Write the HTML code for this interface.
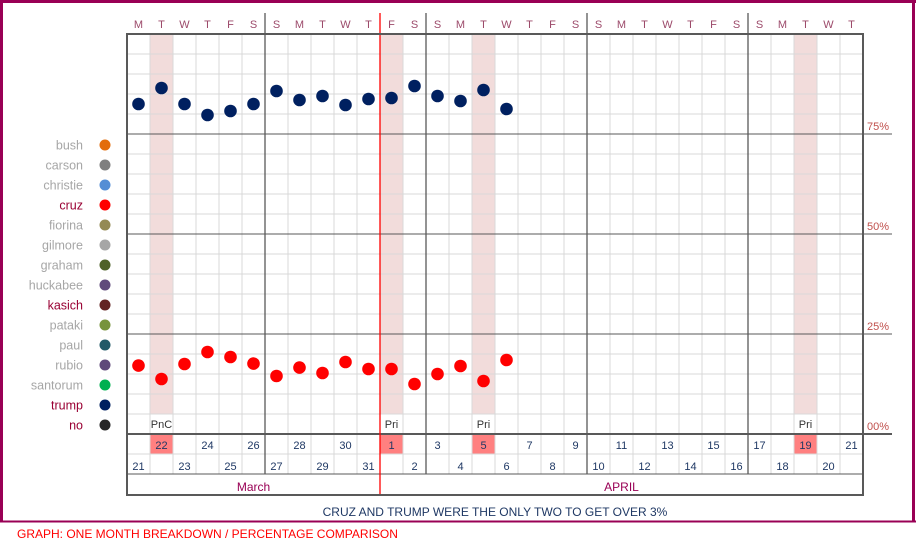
<!DOCTYPE html>
<html><head><meta charset="utf-8">
<style>
html,body{margin:0;padding:0;background:#fff;}
svg{display:block;font-family:"Liberation Sans",sans-serif;}
</style></head>
<body>
<svg id="chart" width="916" height="543" viewBox="0 0 916 543" xmlns="http://www.w3.org/2000/svg">
<g id="frame">
<rect x="0" y="0" width="916" height="543" fill="#fff"/>
<line x1="0" y1="1.5" x2="916" y2="1.5" stroke="#990055" stroke-width="3"/>
<line x1="1.5" y1="0" x2="1.5" y2="522" stroke="#990055" stroke-width="3"/>
<line x1="913.5" y1="0" x2="913.5" y2="522" stroke="#990055" stroke-width="3"/>
<line x1="0" y1="521.5" x2="916" y2="521.5" stroke="#990055" stroke-width="2"/>
</g>
<g id="grid"></g>
<g id="marks"></g>
<g id="legend"></g>
<text x="495" y="516" text-anchor="middle" font-size="12" fill="#1f3864">CRUZ AND TRUMP WERE THE ONLY TWO TO GET OVER 3%</text>
<text x="17" y="538" font-size="12" fill="#ff0000">GRAPH: ONE MONTH BREAKDOWN / PERCENTAGE COMPARISON</text>
</svg>
<script>
const dayLetters = ["M","T","W","T","F","S","S","M","T","W","T","F","S","S","M","T","W","T","F","S","S","M","T","W","T","F","S","S","M","T","W","T"];
const dates = [21,22,23,24,25,26,27,28,29,30,31,1,2,3,4,5,6,7,8,9,10,11,12,13,14,15,16,17,18,19,20,21];
const eventDays = [1,11,15,29];
const eventLabels = ["PnC","Pri","Pri","Pri"];
const weekBreaks = [6,13,20,27];
const monthBreak = 11;
const yTicks = [75,50,25,0];
const yTickLabels = ["75%","50%","25%","00%"];
const trumpValues = [82.5,86.5,82.5,79.75,80.75,82.5,85.75,83.5,84.5,82.25,83.75,84,87,84.5,83.25,86,81.25];
const cruzValues = [17.1,13.75,17.5,20.5,19.25,17.6,14.5,16.6,15.25,18,16.25,16.25,12.5,15,17,13.25,18.5];
const legendNames = ["bush","carson","christie","cruz","fiorina","gilmore","graham","huckabee","kasich","pataki","paul","rubio","santorum","trump","no"];
const legendColors = ["#e36c0a","#7f7f7f","#558ed5","#ff0000","#948a54","#a6a6a6","#4f6228","#604a7b","#632423","#77933c","#215967","#5f497a","#00b050","#002060","#262626"];
const legendHighlighted = ["cruz","kasich","trump","no"];

const NS="http://www.w3.org/2000/svg";
const X0=127, CW=23, N=dates.length, X1=X0+N*CW, YTOP=34, Y0=434;
const xCol=i=>X0+i*CW, xMid=i=>X0+i*CW+CW/2, yPct=v=>Y0-v*4;
function mk(parent,tag,attrs,text){const e=document.createElementNS(NS,tag);for(const k in attrs)e.setAttribute(k,attrs[k]);if(text!==undefined)e.textContent=text;parent.appendChild(e);return e;}
const grid=document.getElementById('grid'), marks=document.getElementById('marks'), legend=document.getElementById('legend');

// event shading
eventDays.forEach((d,k)=>{
  const r=mk(grid,'rect',{x:xCol(d),y:YTOP,width:CW,height:414-YTOP,fill:'#f2dcdb'});
  
  
  const c=mk(grid,'rect',{x:xCol(d),y:434,width:CW,height:20,fill:'#ff8080'});
  
  
  const t=mk(grid,'text',{x:xMid(d),y:428,'text-anchor':'middle','font-size':11,fill:'#333'},eventLabels[k]);
  
  
});
// minor gridlines
for(let y=YTOP+20;y<Y0;y+=20){mk(grid,'line',{x1:X0,y1:y,x2:X1,y2:y,stroke:'#d9d9d9','stroke-width':1});}
for(let i=1;i<N;i++){mk(grid,'line',{x1:xCol(i),y1:YTOP,x2:xCol(i),y2:474,stroke:'#d9d9d9','stroke-width':1});}
mk(grid,'line',{x1:X0,y1:454,x2:X1,y2:454,stroke:'#d9d9d9'});
// major y lines
yTicks.forEach((v,k)=>{
  const y=yPct(v);
  mk(grid,'line',{x1:X0,y1:y,x2:892,y2:y,stroke:'#595959','stroke-width':v===0?2:1});
  const t=mk(grid,'text',{x:867,y:y-4,'font-size':11,fill:'#c0504d'},yTickLabels[k]);
  
  
});
// week breaks
weekBreaks.forEach(i=>{mk(grid,'line',{x1:xCol(i),y1:13,x2:xCol(i),y2:474,stroke:'#595959','stroke-width':1.3});});
mk(grid,'line',{x1:X0,y1:474,x2:X1,y2:474,stroke:'#595959'});
mk(grid,'line',{x1:xCol(monthBreak),y1:13,x2:xCol(monthBreak),y2:495,stroke:'#ff0000','stroke-width':1.3});
mk(grid,'rect',{x:X0,y:YTOP,width:X1-X0,height:495-YTOP,fill:'none',stroke:'#595959','stroke-width':2});
// day letters & dates
dayLetters.forEach((l,i)=>{
  const t=mk(grid,'text',{x:xMid(i),y:28,'text-anchor':'middle','font-size':11,fill:'#9c4a6a'},l);
  
  
});
dates.forEach((d,i)=>{
  const t=mk(grid,'text',{x:xMid(i),y:(i%2===1)?449:470,'text-anchor':'middle','font-size':11,fill:'#1f3864'},d);
  
  
});
let mt=mk(grid,'text',{x:xMid(5),y:491,'text-anchor':'middle','font-size':12,fill:'#990055'},'March');


mt=mk(grid,'text',{x:xMid(21),y:491,'text-anchor':'middle','font-size':12,fill:'#990055'},'APRIL');


// series
trumpValues.forEach((v,i)=>{
  const c=mk(marks,'circle',{cx:xMid(i),cy:yPct(v),r:6.3,fill:'#002060'});
  
  
});
cruzValues.forEach((v,i)=>{
  const c=mk(marks,'circle',{cx:xMid(i),cy:yPct(v),r:6.3,fill:'#ff0000'});
  
  
});
// legend
legendNames.forEach((n,k)=>{
  const y=145+k*20;
  const hl=legendHighlighted.includes(n);
  const t=mk(legend,'text',{x:83,y:y+4.5,'text-anchor':'end','font-size':12.5,fill:hl?'#990033':'#a6a6a6'},n);
  
  
  const c=mk(legend,'circle',{cx:105,cy:y,r:5.5,fill:legendColors[k]});
  
  
});
</script>
</body></html>
